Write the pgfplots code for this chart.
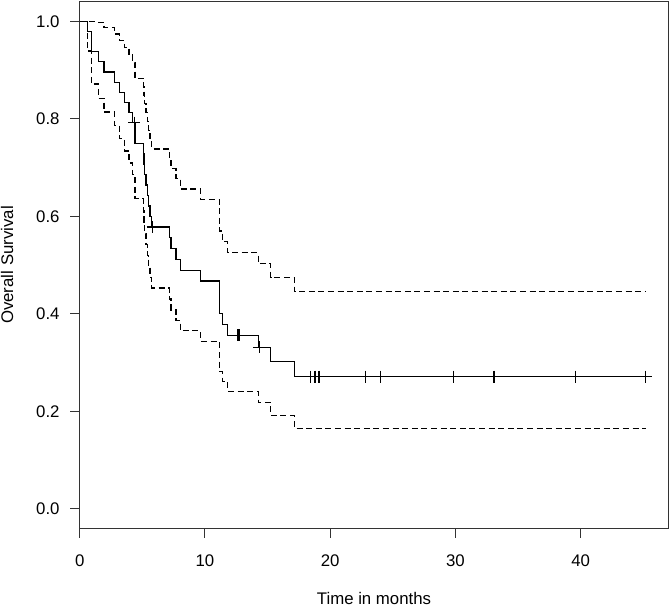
\documentclass[border=0pt]{standalone}
\usepackage{fontspec}
\setmainfont{Liberation Sans}
\usepackage{pgfplots}
\pgfplotsset{compat=1.18}
\begin{document}
\fontsize{12.6}{15}\selectfont
\begin{tikzpicture}
\begin{axis}[
  at={(0pt,0pt)}, anchor=south west,
  scale only axis, width=441.45pt, height=394.95pt,
  xmin=0, xmax=47, ymin=-0.04, ymax=1.04,
  xtick={0,10,20,30,40}, ytick={0,0.2,0.4,0.6,0.8,1},
  xtick pos=left, ytick pos=left,
  tick align=outside, major tick length=7pt,
  axis line style={black!80, line width=0.8pt},
  every tick/.style={black!80, line width=0.8pt},
  /pgf/number format/assume math mode=true,
  yticklabel style={anchor=east, xshift=-3.75pt, /pgf/number format/fixed, /pgf/number format/fixed zerofill, /pgf/number format/precision=1},
  xticklabel style={anchor=north, yshift=-8.25pt},
  xlabel={Time in months}, ylabel={Overall Survival},
  xlabel style={at={(axis description cs:0.5,0)}, anchor=center, yshift=-52.3pt},
  ylabel style={at={(axis description cs:0,0.5)}, anchor=center, rotate=0, yshift=54.5pt},
  clip=false,
]
% Kaplan-Meier estimate
\addplot[const plot, black, line width=1pt] coordinates {
(0,1.0) (0.61,0.979) (0.93,0.9375) (1.49,0.917) (1.94,0.896) (2.76,0.875)
(3.16,0.854) (3.56,0.833) (3.93,0.8125) (4.23,0.792) (4.41,0.749)
(5.08,0.728) (5.12,0.706) (5.18,0.685) (5.3,0.664) (5.4,0.642) (5.5,0.621)
(5.62,0.599) (5.75,0.578) (7.15,0.556) (7.3,0.534) (7.7,0.511) (8.05,0.489)
(9.66,0.467) (11.14,0.400) (11.41,0.378) (11.78,0.356) (14.25,0.331)
(15.24,0.302) (17.13,0.271) (45.2,0.271)};
% upper confidence limit
\addplot[const plot, black, line width=1pt, dash pattern=on 4.5pt off 2.7pt] coordinates {
(0,1.0) (1.49,0.998) (1.94,0.987) (2.76,0.974) (3.16,0.960) (3.56,0.946)
(3.93,0.931) (4.23,0.916) (4.41,0.883) (5.08,0.866) (5.12,0.849) (5.18,0.831)
(5.3,0.813) (5.4,0.795) (5.5,0.776) (5.62,0.757) (5.75,0.738) (7.15,0.718)
(7.3,0.698) (7.7,0.677) (8.05,0.656) (9.66,0.635) (11.14,0.570) (11.41,0.548)
(11.78,0.525) (14.25,0.503) (15.24,0.474) (17.13,0.446) (45.2,0.446)};
% lower confidence limit
\addplot[const plot, black, line width=1pt, dash pattern=on 4.5pt off 2.7pt] coordinates {
(0,1.0) (0.61,0.939) (0.93,0.871) (1.49,0.842) (1.94,0.814) (2.76,0.786)
(3.16,0.760) (3.56,0.734) (3.93,0.709) (4.23,0.685) (4.41,0.636)
(5.08,0.612) (5.12,0.588) (5.18,0.565) (5.3,0.542) (5.4,0.519) (5.5,0.497)
(5.62,0.475) (5.75,0.453) (7.15,0.430) (7.3,0.408) (7.7,0.386) (8.05,0.365)
(9.66,0.343) (11.14,0.281) (11.41,0.261) (11.78,0.241) (14.25,0.218)
(15.24,0.191) (17.13,0.165) (45.2,0.165)};
% censoring marks
\addplot[only marks, mark=+, mark size=4.5pt, black, line width=1pt] coordinates {
(4.36,0.792) (5.82,0.578) (12.6,0.356) (12.72,0.356) (14.33,0.331)
(18.43,0.271) (18.78,0.271) (19.1,0.271) (22.8,0.271) (24.0,0.271)
(29.87,0.271) (33.07,0.271) (39.6,0.271) (45.2,0.271)};
\end{axis}
\pgfresetboundingbox
\path (-59.8pt,-59.0pt) rectangle (442.75pt,396.25pt);
\end{tikzpicture}
\end{document}
